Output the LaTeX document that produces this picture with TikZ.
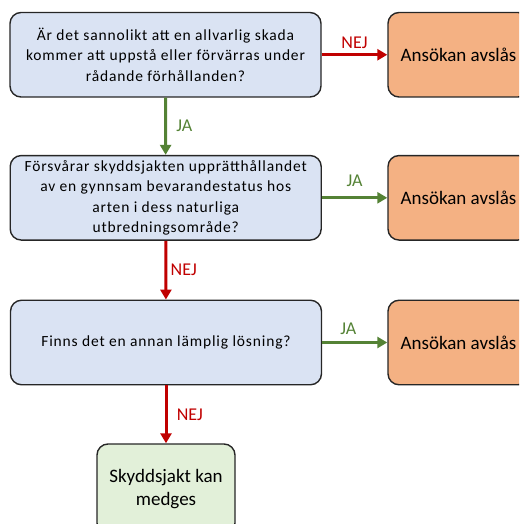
\documentclass[tikz,border=0pt]{standalone}
\usepackage{fontspec}
\setmainfont{Carlito}
\newfontfamily\questfont{Carlito}[LetterSpace=5.5]
\usetikzlibrary{arrows.meta,positioning}
\definecolor{questblue}{HTML}{DAE3F3}
\definecolor{denyorange}{HTML}{F4B183}
\definecolor{grantgreen}{HTML}{E2F0D9}
\definecolor{nejred}{HTML}{C00000}
\definecolor{jagreen}{HTML}{548235}
\definecolor{boxline}{HTML}{262626}
\tikzset{
  box/.style={draw=boxline, line width=1.4pt, rounded corners=11pt, minimum height=84.5pt, inner sep=0pt, align=center},
  question/.style={box, fill=questblue, minimum width=311pt, font=\questfont\fontsize{15.5}{20.5}\selectfont},
  denied/.style={box, fill=denyorange, minimum width=141pt, font=\fontsize{19}{23}\selectfont},
  granted/.style={box, fill=grantgreen, minimum width=138pt, minimum height=90pt, font=\fontsize{19}{22.5}\selectfont},
  nej/.style={draw=nejred, line width=3pt, -{Triangle[length=10pt,width=11pt]}},
  ja/.style={nej, draw=jagreen},
  nejlabel/.style={text=nejred, font=\fontsize{18}{20}\selectfont},
  jalabel/.style={text=jagreen, font=\fontsize{18}{20}\selectfont},
}
\begin{document}
\begin{tikzpicture}[x=1pt,y=-1pt]
  \useasboundingbox (0,0) rectangle (519,524);
  \clip (0,0) rectangle (519,524);

  % questions
  \node[question] (q1) at (165.5,54.75) {Är det sannolikt att en allvarlig skada\\kommer att uppstå eller förvärras under\\rådande förhållanden?};
  \node[question] (q2) at (165.7,197.8) {Försvårar skyddsjakten upprätthållandet\\av en gynnsam bevarandestatus hos\\arten i dess naturliga\\utbredningsområde?};
  \node[question] (q3) at (166,342.5) {Finns det en annan lämplig lösning?};

  % outcomes
  \node[denied] (d1) at (458.5,54.75) {Ansökan avslås};
  \node[denied] (d2) at (458.5,197.8) {Ansökan avslås};
  \node[denied] (d3) at (458.5,342.5) {Ansökan avslås};
  \node[granted] (ok) at (166,489) {Skyddsjakt kan\\medges};

  % arrows
  \draw[nej] (q1) -- node[nejlabel, above=1pt] {NEJ} (d1);
  \draw[ja] (q1) -- node[jalabel, right=6pt] {JA} (q2);
  \draw[ja] (q2) -- node[jalabel, above=6pt] {JA} (d2);
  \draw[nej] (q2) -- node[nejlabel, right=0pt] {NEJ} (q3);
  \draw[ja] (q3) -- node[jalabel, above=3pt, pos=0.4] {JA} (d3);
  \draw[nej] (q3) -- node[nejlabel, right=6pt] {NEJ} (ok);
\end{tikzpicture}
\end{document}
